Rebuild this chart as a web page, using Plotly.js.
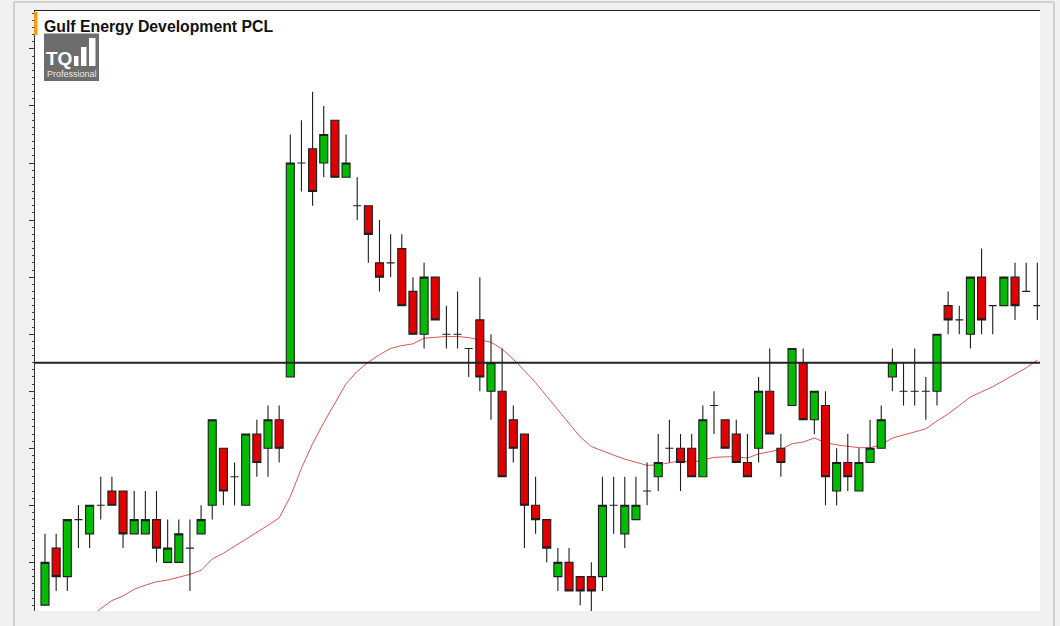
<!DOCTYPE html>
<html><head><meta charset="utf-8">
<script src="https://cdn.plot.ly/plotly-3.0.1.min.js"></script>
<style>html,body{margin:0;padding:0;background:#f0f0f0;}#chart{width:1060px;height:626px;}</style>
</head><body><div id="chart"></div>
<script>
// ---- data ----
const openP = [35.75,36.75,36.25,37.25,37.00,37.50,37.75,37.75,37.00,37.00,
  37.25,36.50,36.50,36.75,37.00,37.50,38.50,38.00,37.50,38.75,
  38.50,39.00,39.75,43.50,43.75,43.50,44.25,43.25,42.75,42.75,
  41.75,41.75,42.00,41.25,40.50,41.50,40.50,40.50,40.25,40.75,
  39.50,39.50,39.00,38.75,37.50,37.25,36.25,36.50,36.25,36.25,
  36.25,37.50,37.00,37.25,37.75,38.00,38.50,38.50,38.50,38.00,
  39.25,39.00,38.75,38.25,38.50,39.50,38.50,39.25,40.00,39.00,
  39.25,37.75,38.25,37.75,38.25,38.50,39.75,39.50,39.50,39.50,
  39.50,41.00,40.75,40.50,41.50,41.00,41.00,41.50,41.25,41.00];
const highP = [37.00,37.00,37.25,37.50,37.50,38.00,38.00,37.75,37.75,37.75,
  37.75,37.25,37.25,37.25,37.50,39.00,38.50,38.25,38.75,39.00,
  39.25,39.25,44.00,44.25,44.75,44.50,44.25,44.00,43.25,42.75,
  42.50,42.25,42.25,41.50,41.75,41.50,41.00,41.25,40.25,41.50,
  40.50,40.25,39.25,38.75,38.00,37.25,36.75,36.75,36.25,36.50,
  38.00,38.00,38.00,38.00,38.25,38.75,39.00,38.75,38.75,39.25,
  39.50,39.00,39.00,38.75,39.75,40.25,38.75,40.25,40.25,39.50,
  39.50,38.50,38.75,38.50,39.00,39.25,40.25,40.00,40.25,39.75,
  40.50,41.25,41.00,41.50,42.00,41.00,41.50,41.75,41.75,41.75];
const lowP = [35.75,36.00,36.00,36.75,36.75,37.25,37.50,36.75,37.00,37.00,
  36.50,36.50,36.50,36.00,37.00,37.25,37.50,37.50,37.50,38.00,
  38.00,38.25,39.75,43.00,42.75,43.25,43.25,43.25,42.50,41.75,
  41.25,41.50,41.00,40.50,40.25,40.75,40.25,40.25,39.75,39.50,
  39.00,38.00,38.25,36.75,37.00,36.50,36.00,36.00,35.75,35.50,
  36.00,37.00,36.75,37.25,37.50,37.75,38.25,37.75,38.00,38.00,
  38.75,38.50,38.25,38.00,38.25,38.75,38.00,39.25,39.00,38.75,
  37.50,37.50,37.75,37.75,38.25,38.50,39.50,39.25,39.25,39.00,
  39.25,40.50,40.50,40.25,40.50,40.50,41.00,40.75,41.25,40.75];
const closeP = [36.50,36.25,37.25,37.25,37.50,37.50,37.50,37.00,37.25,37.25,
  36.75,36.75,37.00,36.75,37.25,39.00,37.75,38.00,38.75,38.25,
  39.00,38.50,43.50,43.50,43.00,44.00,43.25,43.50,42.75,42.25,
  41.50,41.75,41.00,40.50,41.50,40.75,40.50,40.50,40.25,39.75,
  40.00,38.00,38.50,37.50,37.25,36.75,36.50,36.00,36.00,36.00,
  37.50,37.50,37.50,37.50,37.75,38.25,38.50,38.25,38.00,39.00,
  39.25,38.50,38.25,38.00,39.50,38.75,38.25,40.25,39.00,39.50,
  38.00,38.25,38.00,38.25,38.50,39.00,40.00,39.50,39.50,39.50,
  40.50,40.75,40.75,41.50,40.75,41.00,41.50,41.00,41.25,41.00];
const maP = [35.13,35.23,35.33,35.43,35.53,35.69,35.83,35.91,36.03,36.10,
  36.16,36.19,36.24,36.29,36.36,36.56,36.66,36.78,36.90,37.03,
  37.15,37.28,37.65,38.15,38.58,38.95,39.30,39.63,39.85,40.01,
  40.14,40.25,40.30,40.33,40.43,40.45,40.46,40.46,40.44,40.40,
  40.36,40.24,40.06,39.86,39.65,39.41,39.18,38.95,38.70,38.53,
  38.45,38.38,38.31,38.25,38.20,38.21,38.25,38.28,38.25,38.30,
  38.34,38.35,38.35,38.33,38.40,38.44,38.48,38.58,38.61,38.68,
  38.60,38.56,38.54,38.51,38.51,38.56,38.68,38.73,38.78,38.84,
  38.98,39.10,39.25,39.40,39.49,39.58,39.69,39.80,39.91,40.05];
const refLevel = 40.00;
const titleText = 'Gulf Energy Development PCL';
const barIndex = openP.map((_, i) => i);

// ---- layout helpers (pixel -> paper) ----
const W = 1060, H = 626, ML = 35, MR = 20, MT = 11, MB = 15;
const PW = W - ML - MR, PH = H - MT - MB;
const px = x => (x - ML) / PW;
const py = y => (H - MB - y) / PH;
const xRange = [-0.897, 89.24];
const yRange = [35.6475, 46.165];

const maTrace = {
  type: 'scatter', mode: 'lines', x: barIndex, y: maP,
  line: {color: '#d65858', width: 1}, hoverinfo: 'skip', showlegend: false,
  xaxis: 'x', yaxis: 'y'
};
const candleTrace = {
  type: 'candlestick', x: barIndex, open: openP, high: highP, low: lowP, close: closeP,
  increasing: {fillcolor: '#00bb00', line: {color: '#1e1e1e', width: 1.1}},
  decreasing: {fillcolor: '#e00000', line: {color: '#1e1e1e', width: 1.1}},
  whiskerwidth: 0, hoverinfo: 'skip', showlegend: false,
  xaxis: 'x2', yaxis: 'y2'
};

const shapes = [
  // outer panel frame
  {type:'line', xref:'paper', yref:'paper', x0:px(14), x1:px(14), y0:py(2), y1:py(640), line:{color:'#c6c6c6', width:1.5}},
  {type:'line', xref:'paper', yref:'paper', x0:px(14), x1:px(1054), y0:py(2), y1:py(2), line:{color:'#c6c6c6', width:1.5}},
  {type:'line', xref:'paper', yref:'paper', x0:px(1054), x1:px(1054), y0:py(2), y1:py(640), line:{color:'#c6c6c6', width:1.5}},
  // reference horizontal line
  {type:'line', xref:'paper', yref:'y', x0:0, x1:1, y0:refLevel, y1:refLevel, line:{color:'#222222', width:2}},
  // orange marker
  {type:'rect', xref:'paper', yref:'paper', x0:px(34), x1:px(37.5), y0:py(35), y1:py(12), fillcolor:'#f39c12', line:{width:0}},
  // logo box
  {type:'rect', xref:'paper', yref:'paper', x0:px(44), x1:px(99), y0:py(81), y1:py(33.5), fillcolor:'#6d6d6d', line:{width:0}},
  {type:'rect', xref:'paper', yref:'paper', x0:px(74), x1:px(78.5), y0:py(66), y1:py(56), fillcolor:'#ffffff', line:{width:0}},
  {type:'rect', xref:'paper', yref:'paper', x0:px(81), x1:px(86.5), y0:py(66), y1:py(47), fillcolor:'#ffffff', line:{width:0}},
  {type:'rect', xref:'paper', yref:'paper', x0:px(89), x1:px(95.5), y0:py(66), y1:py(38), fillcolor:'#ffffff', line:{width:0}}
];

const annotations = [
  {xref:'paper', yref:'paper', x:px(58.5), y:py(58), text:'<b>TQ</b>', showarrow:false,
   xanchor:'center', yanchor:'middle', font:{family:'Liberation Sans, Arial, sans-serif', size:19, color:'#ffffff'}},
  {xref:'paper', yref:'paper', x:px(71.5), y:py(74), text:'Professional', showarrow:false,
   xanchor:'center', yanchor:'middle', font:{family:'Liberation Sans, Arial, sans-serif', size:9, color:'#e8e8e8'}}
];

const axisCommon = {showgrid:false, zeroline:false, showticklabels:false, fixedrange:true};

const layout = {
  width: W, height: H,
  margin: {l: ML, r: MR, t: MT, b: MB, pad: 0},
  paper_bgcolor: '#f0f0f0', plot_bgcolor: '#ffffff',
  showlegend: false,
  boxgap: 0.1, boxgroupgap: 0.2,
  title: {text: '<b>' + titleText + '</b>', xref: 'container', yref: 'container',
          x: 44 / W, xanchor: 'left', y: 1 - 26 / H, yanchor: 'middle',
          font: {family: 'Liberation Sans, Arial, sans-serif', size: 15.8, color: '#111111'}},
  xaxis: Object.assign({}, axisCommon, {range: xRange, side: 'top', showline: true, linecolor: '#222222', linewidth: 1,
          ticks: '', rangeslider: {visible: false}}),
  yaxis: Object.assign({}, axisCommon, {range: yRange, showline: true, linecolor: '#333333', linewidth: 1,
          ticks: 'outside', ticklen: 5, tickwidth: 1, tickcolor: '#333333', tick0: 0.5, dtick: 1,
          minor: {ticks: 'outside', ticklen: 2.5, tickwidth: 1, tickcolor: '#444444', dtick: 0.125, showgrid: false}}),
  xaxis2: Object.assign({}, axisCommon, {range: xRange, overlaying: 'x', anchor: 'y2', visible: false, rangeslider: {visible: false}}),
  yaxis2: Object.assign({}, axisCommon, {range: yRange, overlaying: 'y', anchor: 'x2', visible: false}),
  shapes: shapes,
  annotations: annotations
};

Plotly.newPlot('chart', [maTrace, candleTrace], layout, {displayModeBar: false, staticPlot: true});
</script></body></html>
